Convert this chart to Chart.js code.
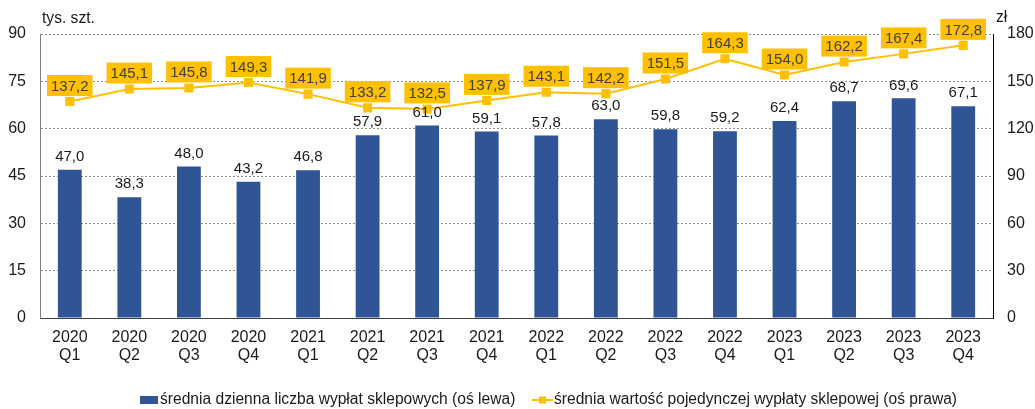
<!DOCTYPE html>
<html>
<head>
<meta charset="utf-8">
<script src="https://cdn.jsdelivr.net/npm/chart.js@4"></script>
<style>
  body { margin: 0; background: #fff; }
  #wrap { width: 1035px; height: 409px; }
</style>
</head>
<body>
<div id="wrap"><canvas id="chart" width="1035" height="409"></canvas></div>
<script>
// dane z wykresu
var years = ["2020", "2020", "2020", "2020", "2021", "2021", "2021", "2021", "2022", "2022", "2022", "2022", "2023", "2023", "2023", "2023"];
var quarters = ["Q1", "Q2", "Q3", "Q4", "Q1", "Q2", "Q3", "Q4", "Q1", "Q2", "Q3", "Q4", "Q1", "Q2", "Q3", "Q4"];
var liczbaWyplat = [47.0, 38.3, 48.0, 43.2, 46.8, 57.9, 61.0, 59.1, 57.8, 63.0, 59.8, 59.2, 62.4, 68.7, 69.6, 67.1];
var wartoscWyplaty = [137.2, 145.1, 145.8, 149.3, 141.9, 133.2, 132.5, 137.9, 143.1, 142.2, 151.5, 164.3, 154.0, 162.2, 167.4, 172.8];
var leftTicks = [0, 15, 30, 45, 60, 75, 90];
var rightTicks = [0, 30, 60, 90, 120, 150, 180];

var barColor = '#2F5597';
var lineColor = '#FFC000';
var fontFamily = '"Liberation Sans", Arial, sans-serif';

var labels = years.map(function(y, i) { return [y, quarters[i]]; });

function fmt(v) {
    return v.toFixed(1).replace('.', ',');
}

// etykiety danych, tytuly osi i legenda
var extras = {
    id: 'extras',
    afterDatasetsDraw: function(chart) {
        var ctx = chart.ctx;
        ctx.save();
        ctx.font = '15px ' + fontFamily;
        ctx.textAlign = 'center';
        ctx.textBaseline = 'middle';

        // slupki
        var bars = chart.getDatasetMeta(0).data;
        ctx.fillStyle = '#1a1a1a';
        bars.forEach(function(b, i) {
            ctx.fillText(fmt(liczbaWyplat[i]), b.x, b.y - 13);
        });

        // linia
        var pts = chart.getDatasetMeta(1).data;
        pts.forEach(function(p, i) {
            var t = fmt(wartoscWyplaty[i]);
            var w = ctx.measureText(t).width + 8;
            var h = 21;
            var cy = p.y - 16;
            ctx.fillStyle = lineColor;
            ctx.fillRect(p.x - w / 2, cy - h / 2, w, h);
            ctx.fillStyle = '#404040';
            ctx.fillText(t, p.x, cy + 1);
        });
        ctx.restore();
    },
    afterDraw: function(chart) {
        var ctx = chart.ctx;
        var area = chart.chartArea;
        ctx.save();
        ctx.font = '15.6px ' + fontFamily;
        ctx.fillStyle = '#1a1a1a';
        ctx.textBaseline = 'middle';
        ctx.textAlign = 'left';
        ctx.fillText('tys. szt.', 42, 19);
        ctx.fillText('zł', area.right + 3, 18);

        // legenda
        var ly = 400;
        ctx.fillStyle = barColor;
        ctx.fillRect(140, ly - 4, 18, 8);
        ctx.fillStyle = '#1a1a1a';
        ctx.fillText('średnia dzienna liczba wypłat sklepowych (oś lewa)', 160, ly);

        ctx.strokeStyle = lineColor;
        ctx.lineWidth = 2;
        ctx.beginPath();
        ctx.moveTo(532, ly);
        ctx.lineTo(553, ly);
        ctx.stroke();
        ctx.fillStyle = lineColor;
        ctx.fillRect(539, ly - 3.5, 7, 7);
        ctx.fillStyle = '#1a1a1a';
        ctx.fillText('średnia wartość pojedynczej wypłaty sklepowej (oś prawa)', 554, ly);
        ctx.restore();
    }
};

new Chart(document.getElementById('chart'), {
    data: {
        labels: labels,
        datasets: [{
            type: 'bar',
            label: 'średnia dzienna liczba wypłat sklepowych (oś lewa)',
            data: liczbaWyplat,
            backgroundColor: barColor,
            borderWidth: 0,
            barPercentage: 0.8,
            categoryPercentage: 0.5,
            yAxisID: 'y',
            order: 2
        }, {
            type: 'line',
            label: 'średnia wartość pojedynczej wypłaty sklepowej (oś prawa)',
            data: wartoscWyplaty,
            borderColor: lineColor,
            backgroundColor: lineColor,
            borderWidth: 2,
            pointStyle: 'rect',
            pointRadius: 5,
            pointHoverRadius: 5,
            tension: 0,
            yAxisID: 'y1',
            order: 1
        }]
    },
    options: {
        responsive: false,
        animation: false,
        layout: { padding: { top: 34, bottom: 46, left: 0, right: 0 } },
        plugins: {
            legend: { display: false },
            tooltip: { enabled: false }
        },
        scales: {
            x: {
                grid: { display: false, drawTicks: false },
                border: { color: '#404040', width: 1 },
                ticks: {
                    color: '#1a1a1a',
                    font: { family: fontFamily, size: 16, lineHeight: 1.15 },
                    padding: 10,
                    maxRotation: 0,
                    autoSkip: false
                },
                afterFit: function(s) { s.height = 45; }
            },
            y: {
                position: 'left',
                min: 0,
                max: 90,
                afterBuildTicks: function(s) { s.ticks = leftTicks.map(function(v) { return { value: v }; }); },
                grid: { color: '#8c8c8c', drawTicks: false },
                border: { color: '#7f7f7f', width: 1, dash: [2, 2] },
                ticks: {
                    color: '#1a1a1a',
                    font: { family: fontFamily, size: 16 },
                    padding: 14
                },
                afterFit: function(s) { s.width = 40; }
            },
            y1: {
                position: 'right',
                min: 0,
                max: 180,
                afterBuildTicks: function(s) { s.ticks = rightTicks.map(function(v) { return { value: v }; }); },
                grid: { display: false, drawTicks: false },
                border: { color: '#000', width: 1 },
                ticks: {
                    color: '#1a1a1a',
                    font: { family: fontFamily, size: 16 },
                    padding: 14
                },
                afterFit: function(s) { s.width = 42; }
            }
        }
    },
    plugins: [extras]
});
</script>
</body>
</html>
